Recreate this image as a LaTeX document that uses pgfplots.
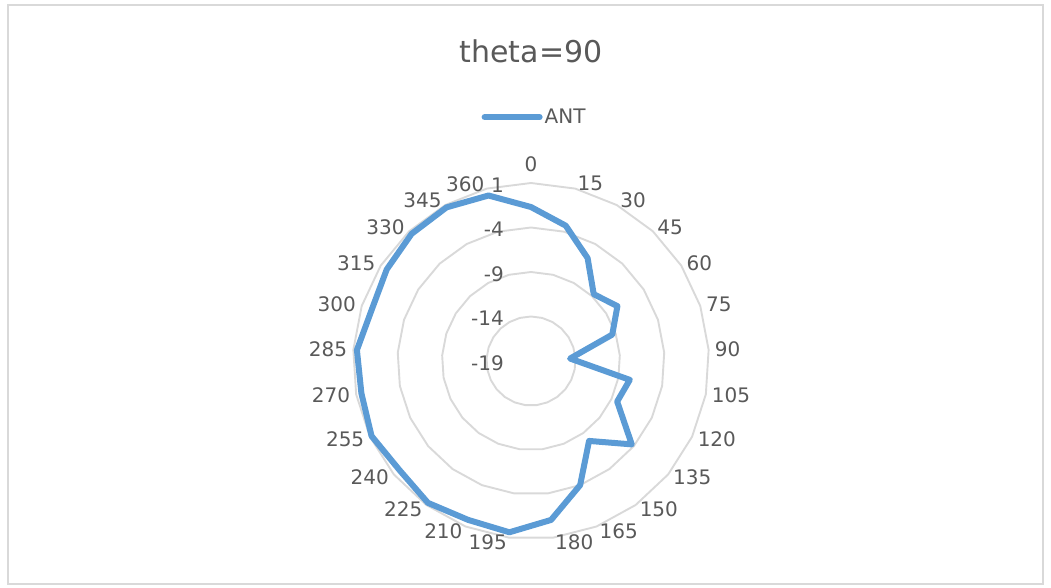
\documentclass[border=0pt]{standalone}
\usepackage{fontspec}
\setmainfont{DejaVu Sans}
\usepackage{pgfplots}
\usepackage{pgfplotstable}
\pgfplotsset{compat=1.18}
\usepgfplotslibrary{polar}

\definecolor{antblue}{HTML}{5B9BD5}
\definecolor{ringgray}{HTML}{D9D9D9}
\definecolor{txtgray}{HTML}{595959}

% i = category (0..24 -> 0,15,...,360 deg), v = gain
\pgfplotstableread{
i v
0 -1.7
1 -3.3
2 -5.8
3 -8.7
4 -7.5
5 -9.4
6 -14.6
7 -7.7
8 -8.3
9 -4.3
10 -7.9
11 -4.0
12 -1.0
13 0.4
14 0.2
15 0.7
16 0.2
17 0.8
18 0.4
19 0.6
20 -0.2
21 0.2
22 0.6
23 0.7
24 0.2
}\antdata

\begin{document}
\begin{tikzpicture}[font=\fontsize{20bp}{24bp}\selectfont, text=txtgray]
\path (-531bp,-227bp) rectangle (520bp,361bp);
\draw[ringgray, line width=1.5bp] (-523bp,-223bp) rectangle (512bp,356bp);

\begin{polaraxis}[
    at={(0,0)}, anchor=center,
    width=356bp, height=356bp, scale only axis,
    xmin=0, xmax=360, ymin=0, ymax=20,
    xtick=\empty, ytick=\empty,
    axis line style={draw=none},
    clip=false,
    legend style={at={(axis description cs:0.51,1.185)}, anchor=center,
        draw=none, fill=none, inner sep=0pt,
        font=\fontsize{20bp}{24bp}\selectfont, text=txtgray},
    legend image code/.code={\draw[#1, line cap=round] (0bp,0bp) -- (55bp,0bp);},
]
% polygon rings at -14, -9, -4, 1 (centre = -19)
\pgfplotsinvokeforeach{5,10,15,20}{
    \addplot[ringgray, line width=1.9bp, forget plot]
        table[x expr=90-14.4*\thisrow{i}, y expr=#1] {\antdata} -- cycle;
}
\addplot[antblue, line width=6bp, line join=round]
    table[x expr=90-14.4*\thisrow{i}, y expr=\thisrow{v}+19] {\antdata} -- cycle;
\addlegendentry{ANT}
\end{polaraxis}

% title
\node[anchor=base, font=\fontsize{30bp}{35bp}\selectfont] at (0,298bp) {theta=90};

% category labels
\node[anchor=south, inner sep=1bp] at (90:188bp) {0};
\foreach \lab [count=\k] in {15,30,...,180}
    \node[anchor=west, inner sep=1bp] at ({90-14.4*\k}:183bp) {\lab};
\foreach \lab [count=\k from 13] in {195,210,...,360}
    \node[anchor=east, inner sep=1bp] at ({90-14.4*\k}:183bp) {\lab};

% radial labels
\foreach \r/\lab in {20/1, 15/-4, 10/-9, 5/-14, 0/-19}
    \node[anchor=east, inner sep=1bp] at (-26bp, {(\r*8.9-2)*1bp}) {\lab};
\end{tikzpicture}
\end{document}
